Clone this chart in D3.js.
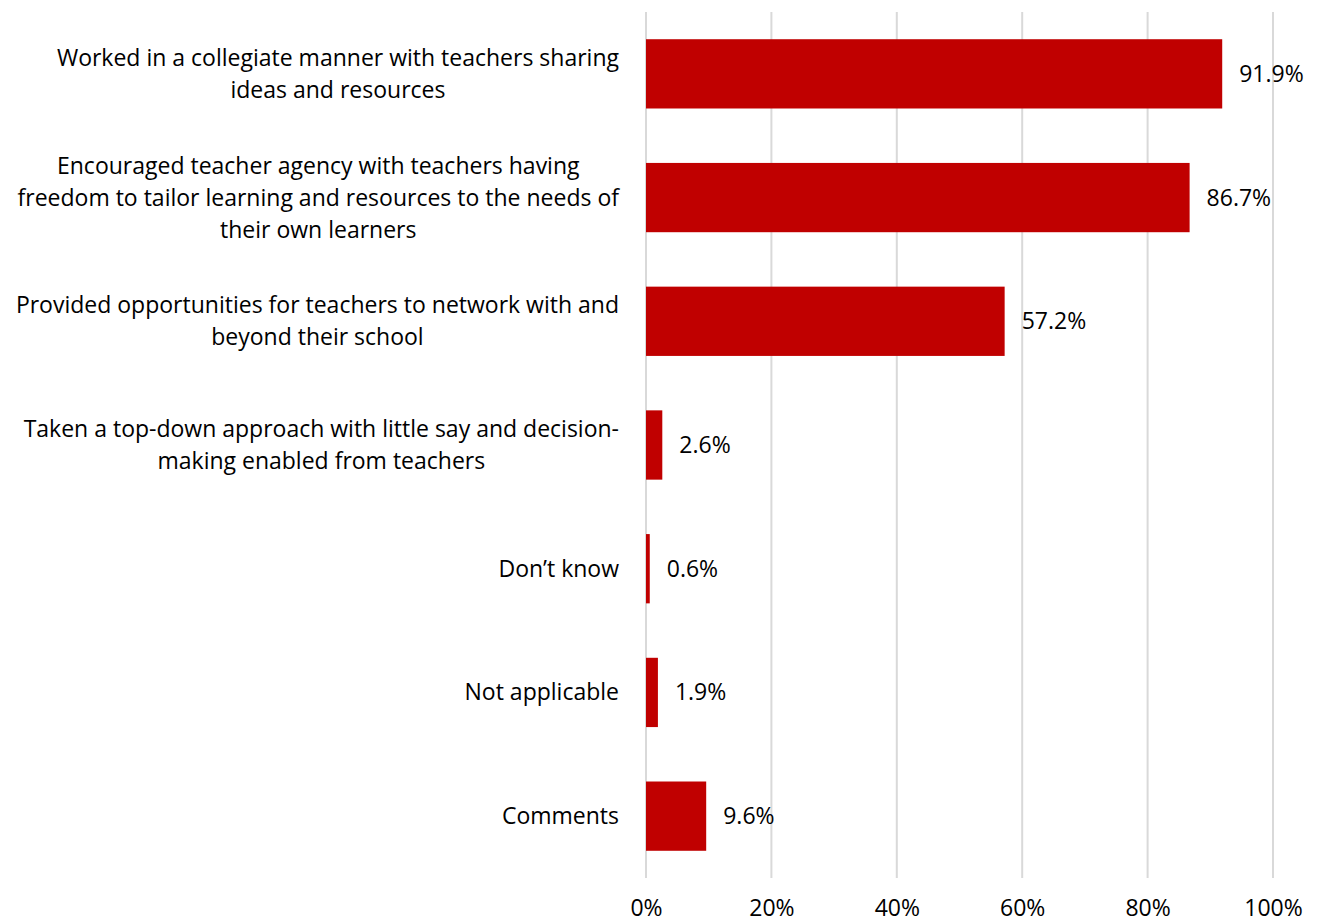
<!DOCTYPE html>
<html>
<head>
<meta charset="utf-8">
<script src="https://cdn.jsdelivr.net/npm/d3@7/dist/d3.min.js"></script>
<style>
  html, body { margin: 0; padding: 0; background: #fff; }
  svg { display: block; }
  text { font-family: "Open Sans", Lato, sans-serif; fill: #000; }
</style>
</head>
<body>
<svg id="chart" width="1320" height="923"></svg>
<script>
// Survey responses, one entry per bar (each label line listed separately)
const categories = [
  ["Worked in a collegiate manner with teachers sharing", "ideas and resources"],
  ["Encouraged teacher agency with teachers having", "freedom to tailor learning and resources to the needs of", "their own learners"],
  ["Provided opportunities for teachers to network with and", "beyond their school"],
  ["Taken a top-down approach with little say and decision-", "making enabled from teachers"],
  ["Don\u2019t know"],
  ["Not applicable"],
  ["Comments"]
];
const values = [91.9, 86.7, 57.2, 2.6, 0.6, 1.9, 9.6];
const tickValues = [0, 20, 40, 60, 80, 100];

const svg = d3.select("#chart");
const margin = { top: 12, left: 646, right: 47 };
const width = 1320;
const plotBottom = 878;
const fontSize = 23;

const x = d3.scaleLinear().domain([0, 100]).range([margin.left, width - margin.right]);
const y = d3.scaleBand().domain(d3.range(values.length)).range([margin.top, plotBottom]).paddingInner(0.44).paddingOuter(0.22);

// vertical gridlines
svg.append("g").selectAll("line").data(tickValues).join("line")
  .attr("x1", d => x(d)).attr("x2", d => x(d))
  .attr("y1", margin.top).attr("y2", plotBottom)
  .attr("stroke", "#d9d9d9").attr("stroke-width", 2);

// x axis labels
const xAxis = d3.axisBottom(x).tickValues(tickValues).tickFormat(d => d + "%").tickSize(0).tickPadding(0);
const gx = svg.append("g").attr("transform", `translate(0, ${plotBottom + 30})`).call(xAxis);
gx.select(".domain").remove();
gx.selectAll("text").attr("font-size", fontSize).attr("font-family", "'Open Sans', Lato, sans-serif").attr("fill", "#000")
  .attr("dy", "0.35em");

// bars
svg.append("g").selectAll("rect").data(values).join("rect")
  .attr("x", x(0))
  .attr("y", (d, i) => y(i))
  .attr("width", d => x(d) - x(0))
  .attr("height", y.bandwidth())
  .attr("fill", "#c00000");

// value labels
svg.append("g").selectAll("text").data(values).join("text")
  .attr("x", d => x(d) + 17)
  .attr("y", (d, i) => y(i) + y.bandwidth() / 2)
  .attr("dy", "0.35em")
  .attr("font-size", fontSize)
  .text(d => d.toFixed(1) + "%");

// category labels: each multi-line block is centred, and right-aligned against the axis
const labelRight = 619;
const lineH = 32;
const gl = svg.append("g");
categories.forEach((lines, i) => {
  const t = gl.append("text").attr("font-size", fontSize).attr("text-anchor", "middle");
  const cy = y(i) + y.bandwidth() / 2;
  const spans = lines.map((ln, k) => t.append("tspan")
    .attr("y", cy + (k - (lines.length - 1) / 2) * lineH)
    .attr("dy", "0.35em")
    .text(ln));
  const w = d3.max(spans, s => s.node().getComputedTextLength());
  spans.forEach(s => s.attr("x", labelRight - w / 2));
});
</script>
</body>
</html>
